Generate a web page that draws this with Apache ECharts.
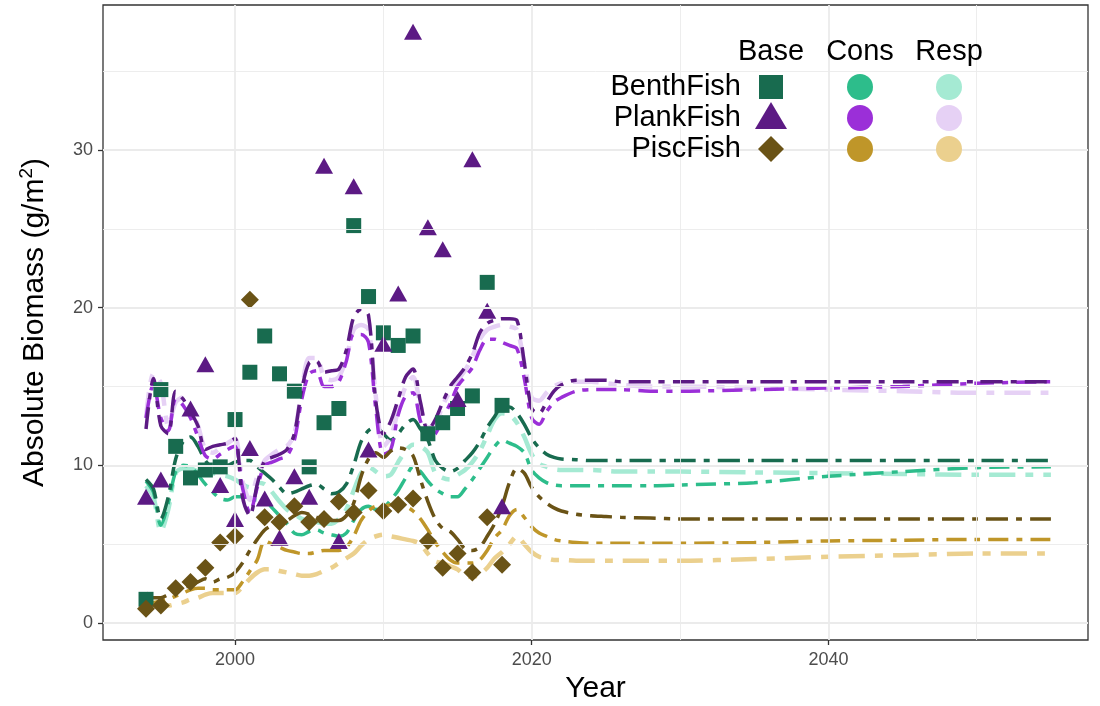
<!DOCTYPE html>
<html><head><meta charset="utf-8">
<script src="https://cdn.jsdelivr.net/npm/echarts@6/dist/echarts.min.js"></script>
<style>html,body{margin:0;padding:0;background:#fff}#c{width:1100px;height:706px}</style>
</head><body><div id="c"></div>
<script>
// ---------- DATA ----------
const obsYears = [1994,1995,1996,1997,1998,1999,2000,2001,2002,2003,2004,2005,2006,2007,2008,2009,2010,2011,2012,2013,2014,2015,2016,2017,2018];
const benthObs = [1.5,14.8,11.2,9.2,9.7,9.9,12.9,15.9,18.2,15.8,14.7,9.9,12.7,13.6,25.2,20.7,18.4,17.6,18.2,12.0,12.7,13.6,14.4,21.6,13.8];
const plankObs = [8.0,9.1,null,13.6,16.4,8.75,6.6,11.1,7.9,5.4,9.3,8.0,29.0,5.2,27.7,11.0,17.7,20.9,37.5,25.1,23.7,14.2,29.4,19.8,7.4];
const piscObs  = [0.9,1.1,2.2,2.6,3.5,5.1,5.5,20.5,6.7,6.4,7.4,6.4,6.6,7.7,7.0,8.4,7.1,7.5,7.9,5.2,3.5,4.4,3.2,6.7,3.7];

const lineYears = [1994,1994.5,1995,1995.5,1996,1996.5,1997,1997.5,1998,1998.5,1999,1999.5,2000,2000.5,2001,2001.5,2002,2002.5,2003,2003.5,2004,2004.5,2005,2005.5,2006,2006.5,2007,2007.5,2008,2008.5,2009,2009.5,2010,2010.5,2011,2011.5,2012,2012.5,2013,2013.5,2014,2014.5,2015,2015.5,2016,2016.5,2017,2017.5,2018,2018.5,2019,2019.5,2020,2020.5,2021,2021.5,2022,2023,2024,2025,2026,2028,2030,2035,2040,2045,2050,2055];

const plankBase = [12.3,15.5,12.5,12.0,14.7,14.2,13.4,12.5,11.0,11.2,11.3,11.4,11.7,8.0,6.8,8.8,10.3,10.5,10.7,11.0,12.0,14.8,16.5,16.6,15.9,16.0,16.1,17.3,19.4,19.9,19.5,14.0,12.0,12.8,14.2,15.6,16.1,14.0,12.2,12.9,14.0,15.0,15.6,16.2,17.1,18.4,19.0,19.2,19.3,19.3,19.2,16.5,13.6,13.3,14.0,14.7,15.1,15.4,15.4,15.4,15.3,15.3,15.3,15.3,15.3,15.3,15.3,15.3];
const plankCons = [13.0,15.2,13.0,12.2,14.2,13.8,13.0,11.8,10.6,10.4,10.7,11.0,11.2,8.6,7.0,8.6,10.0,10.2,10.4,10.6,11.6,14.2,15.8,16.0,15.0,15.0,15.3,16.6,18.3,18.3,17.8,13.5,10.7,11.0,13.2,14.4,14.6,12.8,11.9,12.0,13.0,13.9,15.0,15.6,16.2,17.3,18.0,18.0,17.8,17.6,17.4,15.5,13.0,12.6,13.4,14.0,14.3,14.7,14.8,14.8,14.8,14.7,14.7,14.8,14.9,15.0,15.2,15.3];
const plankResp = [13.0,15.8,15.2,12.5,14.0,14.3,13.7,12.5,11.0,10.8,11.1,11.4,11.7,9.0,7.8,9.3,10.3,10.7,11.0,11.2,12.0,14.8,16.8,16.8,15.6,15.4,15.6,16.8,18.6,18.9,18.6,14.3,11.2,11.8,13.5,15.0,15.6,13.8,12.4,12.6,13.8,14.7,15.4,16.0,16.9,18.0,18.6,18.8,18.9,18.8,18.6,16.5,14.3,14.1,14.6,15.0,15.2,15.3,15.3,15.2,15.1,15.0,15.0,14.9,14.8,14.7,14.6,14.6];

const benthBase = [9.1,8.5,6.6,8.0,10.4,11.5,11.8,11.2,10.3,9.9,9.9,10.0,10.2,10.3,10.3,9.9,9.5,9.1,8.6,8.2,8.3,8.5,8.7,8.8,8.5,8.2,8.3,8.8,10.0,11.5,12.2,12.4,12.0,11.6,12.0,12.6,12.9,12.3,11.6,10.3,9.8,9.6,9.8,10.3,10.8,11.5,12.4,13.1,13.7,13.7,13.3,12.6,11.7,11.1,10.7,10.5,10.4,10.35,10.3,10.3,10.3,10.3,10.3,10.3,10.3,10.3,10.3,10.3];
const benthCons = [9.0,8.3,6.2,7.6,9.6,10.0,9.9,9.4,8.8,8.3,7.9,7.8,8.0,8.0,7.9,7.8,7.8,7.3,6.8,6.3,5.7,5.6,5.8,5.9,5.7,5.6,5.5,5.7,6.5,7.2,7.4,7.2,7.3,7.8,8.4,9.2,9.9,9.6,9.0,8.5,8.2,8.0,8.0,8.5,9.1,9.8,10.5,11.2,11.6,11.4,11.2,10.8,9.7,9.2,8.9,8.75,8.7,8.7,8.7,8.7,8.7,8.7,8.75,8.9,9.3,9.6,9.85,9.9];
const benthResp = [8.7,8.0,5.8,7.2,9.5,9.8,9.8,9.6,9.5,9.5,9.4,9.3,9.1,8.8,8.6,8.9,8.8,8.3,7.7,7.2,6.9,6.6,6.5,6.4,6.3,6.3,6.6,7.2,8.4,9.5,9.9,9.6,9.3,9.4,10.2,10.9,11.3,11.2,10.8,9.5,9.2,9.1,9.4,9.7,10.2,10.9,11.9,12.9,13.3,13.2,12.7,11.8,10.7,10.1,9.9,9.75,9.7,9.7,9.7,9.65,9.6,9.6,9.6,9.55,9.5,9.45,9.4,9.4];

const piscBase = [1.9,1.6,1.6,1.8,2.0,2.2,2.4,2.6,2.8,2.6,2.8,2.9,3.2,3.8,4.6,5.3,5.9,6.2,6.4,6.5,6.8,7.0,6.9,6.7,6.6,6.5,6.5,6.8,7.6,9.3,10.4,10.8,10.5,10.9,11.1,11.0,10.6,9.1,7.7,6.6,6.0,5.8,5.3,4.7,4.6,4.8,5.5,6.3,7.4,8.9,9.8,9.5,8.6,8.0,7.6,7.3,7.1,6.9,6.8,6.75,6.7,6.65,6.6,6.6,6.6,6.6,6.6,6.6];
const piscCons = [1.5,1.3,1.4,1.5,1.7,1.9,2.1,2.2,2.2,2.1,2.1,2.1,2.1,2.6,3.3,4.0,5.2,5.0,4.8,4.6,4.5,4.4,4.4,4.5,4.6,4.6,4.6,4.8,5.5,6.5,7.1,7.4,7.4,7.5,7.5,7.4,7.1,6.6,5.9,5.1,4.5,4.0,3.8,3.8,3.8,4.0,4.6,5.4,5.9,6.8,7.2,6.7,6.1,5.7,5.5,5.3,5.2,5.1,5.05,5.05,5.05,5.05,5.05,5.1,5.2,5.25,5.3,5.3];
const piscResp = [1.3,1.2,1.1,1.1,1.2,1.3,1.5,1.6,1.8,1.9,1.9,1.9,1.9,2.3,2.8,3.2,3.4,3.4,3.3,3.2,3.1,3.0,3.0,3.1,3.3,3.5,3.8,4.1,4.4,4.9,5.3,5.5,5.6,5.5,5.4,5.3,5.2,5.0,4.4,3.9,3.8,3.6,3.4,3.0,2.9,3.1,3.5,4.1,4.5,5.0,5.5,5.0,4.5,4.2,4.1,4.0,4.0,3.95,3.95,3.95,3.95,3.95,3.95,4.05,4.2,4.3,4.4,4.4];

const xTicks = [2000,2020,2040];
const yTicks = [0,10,20,30];
const xMinor = [2010,2030,2050];
const yMinor = [5,15,25,35];
const groups = ['BenthFish','PlankFish','PiscFish'];
const scenarios = ['Base','Cons','Resp'];

// ---------- STYLE ----------
const colors = {
  BenthFish: ['#186b4f','#2dbd8b','#a5ead3'],
  PlankFish: ['#5c1a84','#9b2fd8','#e6d1f5'],
  PiscFish:  ['#6a5316','#bf9629','#ebd08e']
};
const dash = [[22,8,6,8],[20,8,6,8],[26,10,8,10]];
const widths = [3.5,3.5,4.5];
const FONT = '"Liberation Sans", Arial, sans-serif';

const lineData = {
  BenthFish: [benthBase, benthCons, benthResp],
  PlankFish: [plankBase, plankCons, plankResp],
  PiscFish:  [piscBase, piscCons, piscResp]
};

const series = [];
// grid lines (drawn beneath)
series.push({
  type: 'line', data: [], z: 1, silent: true,
  markLine: {
    silent: true, symbol: ['none','none'], label: {show: false}, animation: false,
    data: [
      ...xTicks.map(v => ({xAxis: v, lineStyle: {color: '#ebebeb', width: 1.8, type: 'solid'}})),
      ...yTicks.map(v => ({yAxis: v, lineStyle: {color: '#ebebeb', width: 1.8, type: 'solid'}})),
      ...xMinor.map(v => ({xAxis: v, lineStyle: {color: '#ebebeb', width: 0.9, type: 'solid'}})),
      ...yMinor.map(v => ({yAxis: v, lineStyle: {color: '#ebebeb', width: 0.9, type: 'solid'}}))
    ]
  }
});

groups.forEach(g => {
  [2,1,0].forEach(s => {
    series.push({
      type: 'line', name: g + ' ' + scenarios[s], z: 2,
      data: lineYears.map((y, i) => [y, lineData[g][s][i]]),
      showSymbol: false, smooth: 0.3, silent: true,
      lineStyle: {color: colors[g][s], width: widths[s], type: dash[s], cap: 'butt'}
    });
  });
});

const obs = [
  ['BenthFish', benthObs, 'rect', 15],
  ['PlankFish', plankObs, 'triangle', [18,16]],
  ['PiscFish', piscObs, 'diamond', [18,18]]
];
obs.forEach(([g, vals, sym, size]) => {
  series.push({
    type: 'scatter', z: 3, silent: true,
    data: obsYears.map((y, i) => [y, vals[i]]).filter(d => d[1] != null),
    symbol: sym, symbolSize: size,
    itemStyle: {color: colors[g][0], opacity: 1}
  });
});

// legend graphic
const legendText = (t, x, y, align) => ({
  type: 'text', x: x, y: y, silent: true, z: 100,
  style: {text: t, font: '29px ' + FONT, fill: '#000', align: align, verticalAlign: 'middle'}
});
const colX = [771, 860, 949];
const rowY = [87, 118, 149];
const graphic = [
  legendText('Base', colX[0], 52, 'center'),
  legendText('Cons', colX[1], 52, 'center'),
  legendText('Resp', colX[2], 52, 'center'),
  ...groups.map((g, i) => legendText(g, 741, rowY[i], 'right')),
  {type: 'rect', z: 100, shape: {x: colX[0]-12, y: rowY[0]-12, width: 24, height: 24}, style: {fill: colors.BenthFish[0]}},
  {type: 'polygon', z: 100, shape: {points: [[colX[0], rowY[1]-16], [colX[0]+16, rowY[1]+11], [colX[0]-16, rowY[1]+11]]}, style: {fill: colors.PlankFish[0]}},
  {type: 'polygon', z: 100, shape: {points: [[colX[0], rowY[2]-13], [colX[0]+13, rowY[2]], [colX[0], rowY[2]+13], [colX[0]-13, rowY[2]]]}, style: {fill: colors.PiscFish[0]}},
  ...groups.map((g, i) => ({type: 'circle', z: 100, shape: {cx: colX[1], cy: rowY[i], r: 13}, style: {fill: colors[g][1]}})),
  ...groups.map((g, i) => ({type: 'circle', z: 100, shape: {cx: colX[2], cy: rowY[i], r: 13}, style: {fill: colors[g][2]}}))
];

const chart = echarts.init(document.getElementById('c'), null, {renderer: 'canvas'});
chart.setOption({
  animation: false,
  backgroundColor: '#fff',
  grid: {left: 103, right: 12, top: 5, bottom: 66, show: true, borderColor: '#333', borderWidth: 1.3, backgroundColor: '#fff', containLabel: false, outerBoundsMode: 'none'},
  xAxis: {
    type: 'value', min: 1991.1, max: 2057.5, splitNumber: 3,
    name: 'Year', nameLocation: 'middle', nameGap: 31,
    nameTextStyle: {fontSize: 30, color: '#000', fontFamily: FONT},
    axisLine: {show: false, onZero: false},
    axisTick: {show: true, length: 5, lineStyle: {color: '#333', width: 1.3}, customValues: xTicks},
    axisLabel: {color: '#4d4d4d', fontSize: 18, fontFamily: FONT, margin: 11, customValues: xTicks, formatter: v => String(v)},
    splitLine: {show: false}
  },
  yAxis: {
    type: 'value', min: -1.08, max: 39.19, splitNumber: 4,
    name: '{a|Absolute Biomass (g/m}{b|2}{a|)}', nameLocation: 'middle', nameGap: 50, nameRotate: 90,
    nameTextStyle: {color: '#000', fontFamily: FONT, rich: {
      a: {fontSize: 30, fontFamily: FONT, color: '#000', lineHeight: 36},
      b: {fontSize: 19, fontFamily: FONT, color: '#000', verticalAlign: 'top', lineHeight: 36}
    }},
    axisLine: {show: false, onZero: false},
    axisTick: {show: true, length: 5, lineStyle: {color: '#333', width: 1.3}, customValues: yTicks},
    axisLabel: {color: '#4d4d4d', fontSize: 18, fontFamily: FONT, margin: 10, customValues: yTicks, formatter: v => String(v)},
    splitLine: {show: false}
  },
  graphic: graphic,
  series: series
});
</script>
</body></html>
